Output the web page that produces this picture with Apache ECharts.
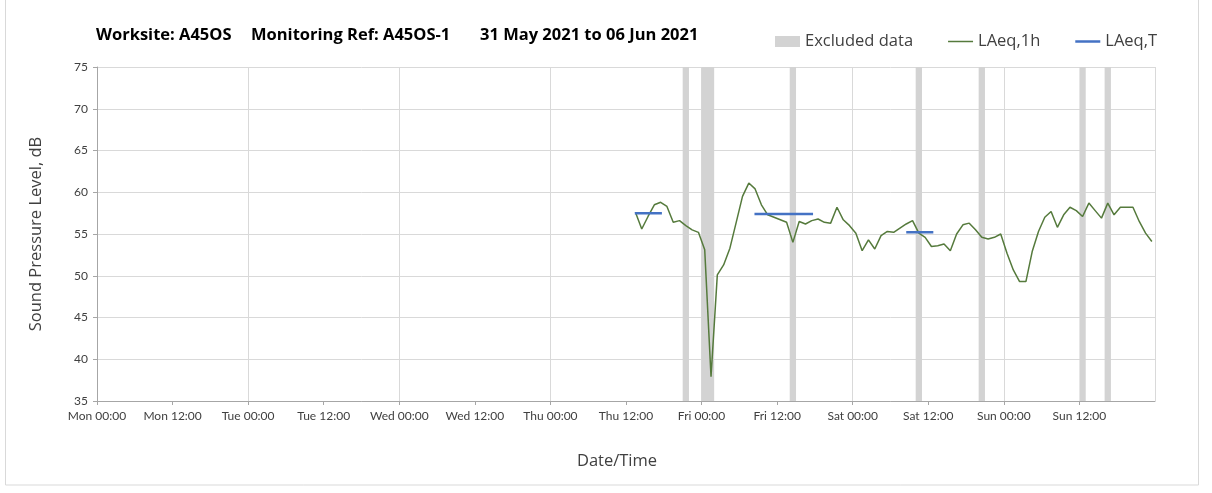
<!DOCTYPE html>
<html>
<head>
<meta charset="utf-8">
<script src="https://cdn.jsdelivr.net/npm/echarts@6/dist/echarts.min.js"></script>
<style>
  html, body { margin: 0; padding: 0; background: #fff; }
  #main { width: 1212px; height: 493px; }
</style>
</head>
<body>
<div id="main"></div>
<script>
// tick labels every 12 h, hours counted from Mon 00:00
var tickLabels = ['Mon 00:00', 'Mon 12:00', 'Tue 00:00', 'Tue 12:00', 'Wed 00:00', 'Wed 12:00',
    'Thu 00:00', 'Thu 12:00', 'Fri 00:00', 'Fri 12:00', 'Sat 00:00', 'Sat 12:00', 'Sun 00:00', 'Sun 12:00'];

// LAeq,1h hourly values, first point at Thu 13:30 (hour 85.5)
var firstHour = 85.5;
var laeq1h = [
    57.6, 55.6, 57.1, 58.5, 58.8, 58.3, 56.4, 56.6, 56.0, 55.5, 55.2, 53.1, 37.9,
    50.1, 51.3, 53.3, 56.4, 59.5, 61.1, 60.4, 58.5, 57.3, 57.0, 56.7, 56.4, 54.0,
    56.5, 56.2, 56.6, 56.8, 56.4, 56.3, 58.2, 56.7, 56.0, 55.1, 53.0, 54.3, 53.2,
    54.8, 55.3, 55.2, 55.7, 56.2, 56.6, 55.1, 54.6, 53.5, 53.6, 53.8, 53.0, 55.0,
    56.1, 56.3, 55.5, 54.6, 54.4, 54.6, 55.0, 52.7, 50.7, 49.3, 49.3, 52.9, 55.3,
    57.0, 57.7, 55.8, 57.3, 58.2, 57.8, 57.1, 58.7, 57.8, 56.9, 58.7, 57.3, 58.2,
    58.2, 58.2, 56.5, 55.1, 54.1
];

// LAeq,T periods: [start hour, end hour, level]
var laeqT = [
    [85.4, 89.7, 57.5],
    [104.4, 113.7, 57.4],
    [128.5, 132.8, 55.2]
];

// excluded data periods: [start hour, end hour]
var excluded = [[93, 94], [96, 98], [110, 111], [130, 131], [140, 141], [156, 157], [160, 161]];

var myChart = echarts.init(document.getElementById('main'));
var font = 'Lato, "Open Sans", sans-serif';
var font2 = '"Open Sans", Lato, sans-serif';

var lineData = laeq1h.map(function (v, i) { return [firstHour + i, v]; });

var series = [];
series.push({
    name: 'Excluded data',
    type: 'line',
    data: [],
    itemStyle: { color: '#d3d3d3' },
    markArea: {
        silent: true,
        itemStyle: { color: '#d3d3d3' },
        data: excluded.map(function (e) { return [{ xAxis: e[0] }, { xAxis: e[1] }]; })
    },
    z: 1
});
series.push({
    name: 'LAeq,1h',
    type: 'line',
    data: lineData,
    symbol: 'none',
    lineStyle: { color: '#557a3c', width: 1.5 },
    itemStyle: { color: '#557a3c' },
    z: 3
});
laeqT.forEach(function (p) {
    series.push({
        name: 'LAeq,T',
        type: 'line',
        data: [[p[0], p[2]], [p[1], p[2]]],
        symbol: 'none',
        lineStyle: { color: '#4472c4', width: 2.5 },
        itemStyle: { color: '#4472c4' },
        z: 4
    });
});

var option = {
    backgroundColor: '#fff',
    animation: false,
    textStyle: { fontFamily: font },
    grid: { left: 97, right: 57, top: 67, bottom: 92 },
    legend: {
        left: 770,
        top: 28,
        itemWidth: 25,
        itemHeight: 11,
        itemGap: 35,
        symbolKeepAspect: true,
        textStyle: { fontSize: 16.5, color: '#404040', fontFamily: font2 },
        data: [
            { name: 'Excluded data', icon: 'rect' },
            { name: 'LAeq,1h', icon: 'path://M0,0H25V1.5H0Z' },
            { name: 'LAeq,T', icon: 'path://M0,0H25V2.5H0Z' }
        ]
    },
    graphic: [
        { type: 'rect', shape: { x: 5.5, y: -1, width: 1193, height: 486 },
          style: { fill: 'none', stroke: '#d9d9d9', lineWidth: 1 }, silent: true },
        { type: 'text', left: 96, top: 27,
          style: { text: 'Worksite: A45OS', font: 'bold 16.5px ' + font2, fill: '#000' } },
        { type: 'text', left: 251, top: 27,
          style: { text: 'Monitoring Ref: A45OS-1', font: 'bold 16.5px ' + font2, fill: '#000' } },
        { type: 'text', left: 480, top: 27,
          style: { text: '31 May 2021 to 06 Jun 2021', font: 'bold 16.5px ' + font2, fill: '#000' } }
    ],
    xAxis: {
        type: 'value',
        min: 0,
        max: 168,
        interval: 12,
        name: 'Date/Time',
        nameLocation: 'middle',
        nameGap: 52,
        nameTextStyle: { fontSize: 16.5, color: '#404040', fontFamily: font2, padding: [0, 18, 0, 0] },
        axisLine: { show: true, lineStyle: { color: '#a6a6a6' } },
        axisTick: { show: true, length: 4, lineStyle: { color: '#a6a6a6' } },
        axisLabel: {
            color: '#404040',
            fontSize: 12,
            margin: 9,
            showMaxLabel: false,
            formatter: function (v) { return tickLabels[Math.round(v / 12)] || ''; }
        },
        splitLine: { show: true, lineStyle: { color: ['#d9d9d9', 'rgba(0,0,0,0)'], width: 1 } }
    },
    yAxis: {
        type: 'value',
        min: 35,
        max: 75,
        interval: 5,
        name: 'Sound Pressure Level, dB',
        nameLocation: 'middle',
        nameGap: 52,
        nameTextStyle: { fontSize: 16.5, color: '#404040', fontFamily: font2 },
        axisLine: { show: true, lineStyle: { color: '#a6a6a6' } },
        axisTick: { show: true, length: 4, lineStyle: { color: '#a6a6a6' } },
        axisLabel: { color: '#404040', fontSize: 12, margin: 9 },
        splitLine: { show: true, lineStyle: { color: '#d9d9d9', width: 1 } }
    },
    series: series
};

myChart.setOption(option);
</script>
</body>
</html>
